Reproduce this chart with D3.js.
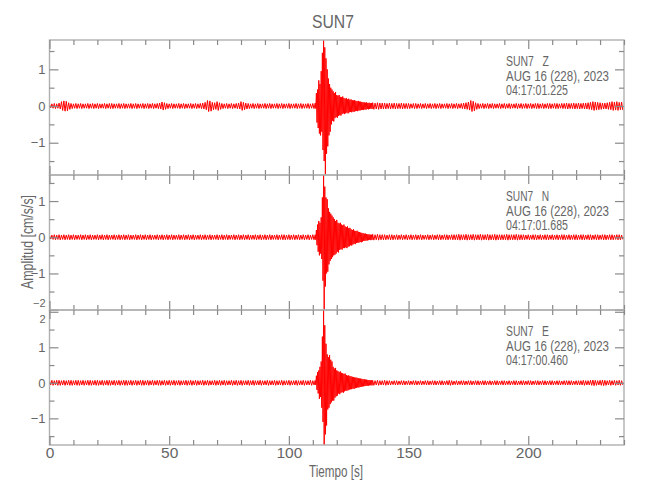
<!DOCTYPE html>
<html><head><meta charset="utf-8">
<script src="https://cdn.jsdelivr.net/npm/d3@7"></script>
<style>
body{margin:0;background:#fff;}
text{font-family:"Liberation Sans",Arial,sans-serif;fill:#666;}
</style></head>
<body><svg id="c" width="650" height="500"></svg>
<script>
// ---------------- data ----------------
const title = "SUN7";
const xLabel = "Tiempo [s]";
const yLabel = "Amplitud [cm/s/s]";
const components = ["Z", "N", "E"];
const station = "SUN7";
const dateText = "AUG 16 (228), 2023";
const startTimes = ["04:17:01.225", "04:17:01.685", "04:17:00.460"];
const xTicksMajor = [0, 50, 100, 150, 200];
const xMax = 240;

// background noise half-amplitude (cm/s/s), one value per second, t = 0..239
const zNoise = [
0.05,0.06,0.07,0.06,0.08,0.12,0.14,0.13,0.09,0.07,
0.06,0.07,0.06,0.07,0.06,0.06,0.07,0.06,0.07,0.06,
0.07,0.06,0.06,0.07,0.06,0.07,0.07,0.06,0.06,0.07,
0.06,0.07,0.06,0.06,0.07,0.06,0.07,0.06,0.06,0.07,
0.06,0.07,0.06,0.07,0.06,0.07,0.08,0.11,0.09,0.07,
0.06,0.07,0.06,0.06,0.07,0.06,0.07,0.06,0.06,0.07,
0.06,0.07,0.06,0.07,0.08,0.10,0.15,0.14,0.10,0.09,
0.12,0.09,0.07,0.06,0.07,0.06,0.07,0.06,0.07,0.08,
0.12,0.10,0.08,0.07,0.06,0.07,0.06,0.07,0.06,0.06,
0.07,0.06,0.07,0.06,0.06,0.07,0.06,0.07,0.06,0.06,
0.07,0.06,0.06,0.07,0.06,0.07,0.06,0.06,0.07,0.06,
0.07,0.07,0.07,0.07,0.07,0.07,0.07,0.07,0.07,0.07,
0.07,0.07,0.07,0.07,0.07,0.07,0.07,0.07,0.07,0.07,
0.07,0.07,0.07,0.07,0.07,0.09,0.08,0.09,0.08,0.08,
0.08,0.07,0.08,0.07,0.08,0.07,0.07,0.08,0.07,0.07,
0.07,0.06,0.07,0.07,0.06,0.07,0.06,0.07,0.06,0.07,
0.06,0.07,0.06,0.07,0.06,0.06,0.07,0.06,0.07,0.06,
0.07,0.06,0.07,0.08,0.09,0.11,0.15,0.13,0.09,0.07,
0.06,0.07,0.06,0.07,0.06,0.07,0.06,0.06,0.07,0.06,
0.07,0.06,0.07,0.06,0.06,0.07,0.06,0.07,0.06,0.07,
0.06,0.07,0.06,0.07,0.07,0.06,0.07,0.06,0.07,0.07,
0.06,0.07,0.07,0.06,0.07,0.07,0.08,0.07,0.07,0.08,
0.07,0.08,0.07,0.08,0.08,0.09,0.10,0.12,0.11,0.10,
0.09,0.08,0.08,0.09,0.10,0.12,0.11,0.12,0.10,0.11];
const nNoise = [
0.05,0.06,0.07,0.06,0.07,0.06,0.07,0.06,0.07,0.06,
0.07,0.06,0.06,0.07,0.06,0.07,0.06,0.07,0.06,0.06,
0.07,0.06,0.07,0.06,0.07,0.06,0.06,0.07,0.06,0.07,
0.06,0.07,0.06,0.07,0.06,0.06,0.07,0.06,0.07,0.06,
0.07,0.06,0.07,0.06,0.06,0.07,0.06,0.07,0.06,0.07,
0.06,0.07,0.06,0.06,0.07,0.06,0.07,0.06,0.07,0.06,
0.07,0.06,0.06,0.07,0.06,0.07,0.06,0.07,0.06,0.06,
0.07,0.06,0.07,0.06,0.07,0.06,0.06,0.07,0.06,0.07,
0.06,0.07,0.06,0.07,0.06,0.06,0.07,0.06,0.07,0.06,
0.07,0.06,0.07,0.06,0.06,0.07,0.06,0.07,0.07,0.06,
0.07,0.06,0.07,0.06,0.07,0.06,0.07,0.06,0.07,0.06,
0.07,0.07,0.07,0.07,0.07,0.07,0.07,0.07,0.07,0.07,
0.07,0.07,0.07,0.07,0.07,0.07,0.07,0.07,0.07,0.07,
0.07,0.07,0.07,0.07,0.07,0.08,0.07,0.08,0.07,0.07,
0.07,0.06,0.07,0.07,0.06,0.07,0.06,0.07,0.06,0.07,
0.06,0.07,0.06,0.07,0.06,0.07,0.06,0.06,0.07,0.06,
0.07,0.06,0.07,0.07,0.06,0.07,0.07,0.06,0.07,0.07,
0.07,0.08,0.07,0.07,0.08,0.07,0.07,0.08,0.07,0.07,
0.08,0.07,0.07,0.08,0.07,0.07,0.08,0.07,0.07,0.07,
0.07,0.08,0.07,0.07,0.07,0.08,0.07,0.07,0.07,0.06,
0.07,0.06,0.07,0.07,0.06,0.07,0.06,0.07,0.07,0.06,
0.07,0.06,0.07,0.06,0.07,0.07,0.06,0.07,0.06,0.07,
0.07,0.06,0.07,0.07,0.06,0.07,0.07,0.06,0.07,0.07,
0.06,0.07,0.07,0.06,0.07,0.07,0.06,0.07,0.07,0.06];
const eNoise = [
0.06,0.07,0.06,0.07,0.07,0.06,0.07,0.06,0.07,0.07,
0.06,0.07,0.07,0.06,0.07,0.06,0.07,0.07,0.06,0.07,
0.07,0.06,0.07,0.06,0.07,0.07,0.06,0.07,0.06,0.07,
0.06,0.07,0.07,0.06,0.07,0.06,0.07,0.06,0.07,0.07,
0.06,0.07,0.06,0.07,0.06,0.07,0.07,0.06,0.07,0.06,
0.07,0.06,0.07,0.06,0.07,0.06,0.06,0.07,0.06,0.07,
0.06,0.07,0.06,0.06,0.07,0.06,0.07,0.06,0.06,0.07,
0.06,0.07,0.06,0.07,0.06,0.06,0.07,0.06,0.07,0.06,
0.07,0.06,0.06,0.07,0.06,0.07,0.06,0.06,0.07,0.06,
0.06,0.07,0.06,0.06,0.07,0.06,0.06,0.07,0.06,0.06,
0.07,0.06,0.06,0.07,0.06,0.06,0.07,0.06,0.06,0.07,
0.06,0.06,0.06,0.06,0.06,0.06,0.06,0.06,0.06,0.06,
0.06,0.06,0.06,0.06,0.06,0.06,0.06,0.06,0.06,0.06,
0.06,0.06,0.06,0.06,0.06,0.07,0.06,0.07,0.06,0.06,
0.07,0.06,0.06,0.05,0.06,0.06,0.05,0.06,0.06,0.05,
0.06,0.05,0.06,0.06,0.05,0.06,0.05,0.06,0.06,0.05,
0.06,0.06,0.05,0.06,0.06,0.05,0.06,0.07,0.06,0.05,
0.06,0.05,0.06,0.06,0.05,0.06,0.06,0.05,0.06,0.06,
0.05,0.06,0.06,0.05,0.06,0.05,0.06,0.06,0.05,0.06,
0.06,0.05,0.06,0.05,0.06,0.06,0.05,0.06,0.06,0.05,
0.06,0.06,0.05,0.06,0.06,0.05,0.06,0.06,0.05,0.06,
0.06,0.05,0.06,0.06,0.05,0.06,0.06,0.06,0.06,0.05,
0.06,0.06,0.06,0.07,0.06,0.06,0.07,0.08,0.07,0.06,
0.07,0.08,0.07,0.06,0.07,0.06,0.07,0.06,0.07,0.06];

// event window: per-0.5 s maximum / minimum, t = 111.0 .. 134.5
const eventStart = 111;
const zEvHi = [0.08,0.35,0.45,0.70,0.60,0.95,1.45,1.80,1.60,1.30,1.00,0.75,0.60,0.50,0.45,0.40,0.35,0.38,0.30,0.28,0.30,0.25,0.24,0.26,0.22,0.20,0.22,0.18,0.20,0.17,0.18,0.16,0.15,0.16,0.14,0.13,0.14,0.12,0.12,0.11,0.10,0.10,0.09,0.10,0.08,0.09,0.08,0.08];
const zEvLo = [-0.07,-0.45,-0.60,-0.75,-0.80,-0.70,-1.20,-1.50,-1.88,-1.30,-1.10,-0.80,-0.70,-0.50,-0.40,-0.42,-0.33,-0.30,-0.32,-0.27,-0.25,-0.26,-0.22,-0.20,-0.22,-0.20,-0.18,-0.20,-0.17,-0.16,-0.17,-0.15,-0.16,-0.14,-0.13,-0.14,-0.12,-0.12,-0.11,-0.10,-0.11,-0.09,-0.10,-0.08,-0.09,-0.08,-0.07,-0.08];
const nEvHi = [0.07,0.20,0.35,0.45,0.40,0.55,1.10,1.72,1.40,1.10,1.05,0.80,0.70,0.65,0.60,0.55,0.50,0.45,0.48,0.40,0.38,0.40,0.35,0.33,0.35,0.30,0.28,0.30,0.25,0.26,0.22,0.20,0.22,0.18,0.17,0.18,0.15,0.14,0.13,0.12,0.11,0.10,0.10,0.09,0.08,0.08,0.07,0.07];
const nEvLo = [-0.07,-0.22,-0.40,-0.50,-0.45,-0.60,-1.20,-2.01,-1.36,-1.00,-0.95,-0.75,-0.65,-0.60,-0.55,-0.50,-0.48,-0.45,-0.40,-0.42,-0.35,-0.33,-0.34,-0.30,-0.30,-0.28,-0.30,-0.26,-0.25,-0.22,-0.23,-0.20,-0.18,-0.19,-0.16,-0.15,-0.15,-0.13,-0.14,-0.12,-0.10,-0.10,-0.09,-0.09,-0.08,-0.07,-0.08,-0.07];
const eEvHi = [0.07,0.20,0.30,0.35,0.45,0.60,1.30,2.05,1.62,1.10,0.80,0.72,0.78,0.65,0.60,0.45,0.40,0.42,0.35,0.33,0.30,0.32,0.28,0.27,0.25,0.26,0.22,0.20,0.21,0.19,0.18,0.17,0.16,0.15,0.15,0.14,0.13,0.12,0.12,0.11,0.10,0.10,0.09,0.09,0.08,0.08,0.07,0.07];
const eEvLo = [-0.06,-0.20,-0.30,-0.45,-0.40,-0.70,-1.10,-1.75,-1.45,-1.20,-0.75,-0.70,-0.60,-0.55,-0.50,-0.50,-0.42,-0.38,-0.36,-0.30,-0.32,-0.28,-0.26,-0.28,-0.24,-0.22,-0.22,-0.21,-0.19,-0.18,-0.18,-0.16,-0.17,-0.15,-0.14,-0.13,-0.13,-0.12,-0.11,-0.10,-0.10,-0.09,-0.09,-0.08,-0.08,-0.07,-0.07,-0.07];

const noiseSets = [zNoise, nNoise, eNoise];
const evHiSets = [zEvHi, nEvHi, eEvHi];
const evLoSets = [zEvLo, nEvLo, eEvLo];

// ---------------- drawing ----------------
const svg = d3.select("#c");
const left = 49.5, right = 624, panelTop = 40, panelH = 135;
const x = d3.scaleLinear().domain([0, xMax]).range([left, right]);
const eventEnd = eventStart + zEvHi.length * 0.5;

svg.append("text").attr("x", 333).attr("y", 28).attr("text-anchor", "middle")
  .attr("textLength", 42).attr("lengthAdjust", "spacingAndGlyphs")
  .style("font-size", "19px").text(title);

components.forEach((comp, p) => {
  const top = panelTop + p * panelH, bot = top + panelH;
  const pts = [];
  const noise = noiseSets[p], hi = evHiSets[p], lo = evLoSets[p];
  for (let i = 0; i < noise.length; i++) {
    if (i >= eventStart && i < eventEnd) continue;
    pts.push([i, noise[i]], [i + 0.5, -noise[i]]);
    if (i === eventStart - 1) {
      hi.forEach((h, j) => {
        const t = eventStart + j * 0.5;
        pts.push([t, h], [t + 0.25, lo[j]]);
      });
    }
  }
  const ext = d3.extent(pts, d => d[1]);
  const y = d3.scaleLinear().domain(ext).range([bot, top]);
  const g = svg.append("g");

  g.append("path").datum(pts)
    .attr("fill", "none").attr("stroke", "#ff0000").attr("stroke-width", 1)
    .attr("d", d3.line().x(d => x(d[0])).y(d => y(d[1])));

  g.append("rect").attr("x", left).attr("y", top).attr("width", right - left).attr("height", panelH)
    .attr("fill", "none").attr("stroke", "#b0b0b0").attr("stroke-width", 1.4);

  const yMaj = d3.range(Math.ceil(ext[0]), Math.floor(ext[1]) + 1);
  const yMin = d3.range(Math.ceil(ext[0] * 2) / 2, ext[1], 0.5).filter(v => !Number.isInteger(v));
  const xMin = d3.range(0, xMax + 1, 10).filter(v => v % 50 !== 0);
  const styleAxis = sel => {
    sel.select(".domain").remove();
    sel.selectAll(".tick line").attr("stroke", "#8a8a8a").attr("stroke-width", 1.2);
    sel.selectAll(".tick text").attr("fill", "#666").attr("font-family", null);
  };
  const ly = g.append("g").attr("transform", `translate(${left},0)`)
    .call(d3.axisLeft(y).tickValues(yMaj).tickSize(-9).tickPadding(4).tickFormat(d3.format("d")))
    .call(styleAxis);
  ly.selectAll("text").attr("font-size", d => Math.abs(d) === 2 ? 11 : 13)
    .attr("dy", d => (d === -2 && p === 1) ? "-0.3em" : (d === 2 && p === 2) ? "0.98em" : "0.32em");
  g.append("g").attr("transform", `translate(${left},0)`)
    .call(d3.axisLeft(y).tickValues(yMin).tickSize(-5).tickFormat("")).call(styleAxis);
  g.append("g").attr("transform", `translate(${right},0)`)
    .call(d3.axisRight(y).tickValues(yMaj).tickSize(-9).tickFormat("")).call(styleAxis);
  g.append("g").attr("transform", `translate(${right},0)`)
    .call(d3.axisRight(y).tickValues(yMin).tickSize(-5).tickFormat("")).call(styleAxis);
  g.append("g").attr("transform", `translate(0,${top})`)
    .call(d3.axisTop(x).tickValues(xTicksMajor).tickSize(-9).tickFormat("")).call(styleAxis);
  g.append("g").attr("transform", `translate(0,${top})`)
    .call(d3.axisTop(x).tickValues(xMin).tickSize(-5).tickFormat("")).call(styleAxis);
  const bx = g.append("g").attr("transform", `translate(0,${bot})`)
    .call(d3.axisBottom(x).tickValues(xTicksMajor).tickSize(-9).tickPadding(2)
      .tickFormat(p === components.length - 1 ? d3.format("d") : ""))
    .call(styleAxis);
  bx.selectAll("text").attr("font-size", 15.5);
  g.append("g").attr("transform", `translate(0,${bot})`)
    .call(d3.axisBottom(x).tickValues(xMin).tickSize(-5).tickFormat("")).call(styleAxis);

  const info = g.append("text").attr("y", top + 26)
    .style("font-size", "14px").attr("fill", "#555").style("white-space", "pre");
  info.append("tspan").attr("x", 506).attr("dy", 0)
    .attr("textLength", 43).attr("lengthAdjust", "spacingAndGlyphs").text(station + "   " + comp);
  info.append("tspan").attr("x", 506).attr("dy", 14.5)
    .attr("textLength", 103).attr("lengthAdjust", "spacingAndGlyphs").text(dateText);
  info.append("tspan").attr("x", 506).attr("dy", 14.5)
    .attr("textLength", 62).attr("lengthAdjust", "spacingAndGlyphs").text(startTimes[p]);
});

svg.append("text").attr("x", 336).attr("y", 477).attr("text-anchor", "middle")
  .attr("textLength", 54).attr("lengthAdjust", "spacingAndGlyphs")
  .style("font-size", "16px").text(xLabel);
svg.append("text").attr("transform", "translate(33,242) rotate(-90)").attr("text-anchor", "middle")
  .attr("textLength", 94).attr("lengthAdjust", "spacingAndGlyphs")
  .style("font-size", "16px").text(yLabel);
</script></body></html>
